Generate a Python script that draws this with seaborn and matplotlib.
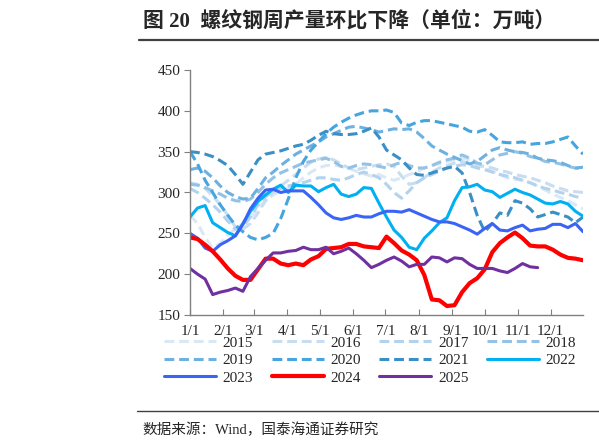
import pandas as pd
import seaborn as sns
import matplotlib.pyplot as plt

# weekly points, day-of-year grid of a non-leap year
weeks = pd.date_range("2025-01-01", periods=53, freq="7D")
month_ticks = pd.date_range("2025-01-01", periods=12, freq="MS")
tick_labels = ["1/1", "2/1", "3/1", "4/1", "5/1", "6/1", "7/1", "8/1", "9/1", "10/1", "11/1", "12/1"]

y2015 = [272, 262, 245, 232, 238, 248, 255, 262, 270, 280, 290, 297, 302, 305, 310, 318, 325, 330, 333, 334,
         332, 330, 326, 323, 320, 322, 318, 315, 318, 322, 325, 330, 333, 335, 338, 340, 342, 340, 335, 330,
         326, 322, 318, 316, 315, 312, 308, 303, 298, 294, 290, 285, 280]
y2016 = [312, 310, 305, 296, 285, 272, 258, 255, 262, 275, 290, 300, 308, 315, 322, 330, 337, 341, 343, 340,
         335, 330, 328, 330, 332, 334, 335, 332, 320, 310, 312, 318, 325, 330, 333, 336, 338, 335, 333, 332,
         330, 327, 325, 322, 320, 318, 315, 312, 308, 305, 302, 301, 300]
y2017 = [305, 300, 293, 285, 276, 265, 255, 258, 270, 285, 295, 302, 305, 308, 310, 312, 315, 318, 318, 316,
         315, 318, 322, 325, 322, 318, 310, 300, 293, 302, 312, 318, 322, 326, 330, 332, 334, 333, 330, 328,
         325, 322, 320, 318, 315, 312, 308, 305, 303, 300, 298, 295, 293]
y2018 = [310, 309, 306, 302, 298, 293, 290, 289, 292, 300, 310, 318, 324, 328, 332, 336, 338, 340, 342, 338,
         332, 330, 333, 335, 334, 332, 330, 334, 337, 333, 330, 330, 333, 337, 340, 342, 346, 342, 336, 334,
         340, 346, 348, 350, 348, 344, 342, 338, 337, 335, 332, 330, 329]
y2019 = [328, 330, 326, 318, 308, 300, 295, 292, 293, 305, 318, 325, 333, 340, 347, 352, 357, 362, 368, 372,
         376, 380, 381, 379, 377, 374, 376, 378, 377, 378, 374, 366, 357, 352, 347, 343, 339, 335, 338, 345,
         352, 355, 352, 350, 349, 347, 342, 340, 339, 337, 333, 330, 331]
y2020 = [350, 335, 315, 300, 285, 272, 260, 252, 245, 242, 245, 250, 268, 292, 318, 338, 352, 362, 372, 380,
         386, 391, 395, 398, 400, 400, 401, 398, 385, 382, 386, 388, 388, 386, 384, 382, 380, 375, 374, 377,
         370, 362, 361, 361, 362, 359, 360, 360, 362, 365, 368, 357, 347]
y2021 = [350, 349, 347, 344, 339, 333, 322, 310, 325, 340, 347, 349, 351, 354, 357, 359, 364, 370, 375, 372,
         371, 371, 372, 375, 379, 368, 352, 346, 340, 330, 322, 321, 324, 327, 330, 332, 324, 300, 272, 252,
         262, 275, 272, 290, 287, 280, 270, 273, 276, 273, 270, 263, 270]
y2022 = [270, 281, 284, 263, 257, 251, 247, 262, 277, 289, 297, 304, 309, 300, 309, 308, 308, 301, 306, 310,
         298, 295, 298, 306, 305, 287, 270, 254, 245, 233, 230, 244, 253, 263, 269, 290, 306, 307, 310, 303,
         301, 294, 299, 304, 300, 297, 292, 287, 286, 289, 286, 277, 271]
y2023 = [250, 244, 232, 228, 236, 241, 247, 261, 280, 293, 303, 304, 300, 302, 302, 302, 294, 285, 275, 269,
         267, 269, 272, 270, 270, 274, 277, 277, 276, 279, 275, 271, 267, 264, 264, 262, 258, 254, 249, 256,
         262, 254, 253, 257, 260, 253, 255, 256, 261, 261, 257, 262, 252]
y2024 = [245, 243, 236, 228, 218, 207, 198, 193, 193, 206, 219, 219, 213, 211, 213, 211, 218, 222, 231, 232,
         233, 237, 237, 234, 233, 232, 246, 238, 229, 224, 217, 199, 169, 168, 161, 162, 178, 189, 195, 206,
         227, 238, 245, 251, 244, 235, 234, 234, 230, 224, 220, 219, 217]
y2025 = [207, 200, 194, 175, 178, 180, 183, 179, 197, 207, 217, 226, 226, 228, 229, 233, 230, 230, 233, 225,
         228, 232, 225, 217, 208, 212, 217, 221, 216, 209, 212, 212, 221, 220, 215, 220, 219, 212, 207, 207,
         207, 204, 202, 207, 213, 209, 208]

series = {
    "2015": y2015, "2016": y2016, "2017": y2017, "2018": y2018, "2019": y2019, "2020": y2020,
    "2021": y2021, "2022": y2022, "2023": y2023, "2024": y2024, "2025": y2025,
}
colors = {
    "2015": "#dae8f5", "2016": "#c9ddf0", "2017": "#b2d2ee", "2018": "#93c2e6", "2019": "#6db1e0",
    "2020": "#46a5de", "2021": "#3a8fc5", "2022": "#00b0f0", "2023": "#3a64f5", "2024": "#ff0000",
    "2025": "#7030a0",
}
dash = (0, (3.2, 1.6))

sns.set_style("ticks")
plt.rcParams["font.family"] = ["Liberation Serif", "Noto Sans CJK SC"]

fig = plt.figure(figsize=(5.99, 4.48), dpi=100)
ax = fig.add_axes([190 / 599, 1 - 315 / 448, 393 / 599, 245 / 448])

for year, vals in series.items():
    df = pd.DataFrame({"date": weeks[:len(vals)], "value": vals})
    if int(year) <= 2021:
        ls, lw = dash, 2.2
    elif year == "2024":
        ls, lw = "-", 3.0
    else:
        ls, lw = "-", 2.2
    sns.lineplot(data=df, x="date", y="value", ax=ax, color=colors[year],
                 linestyle=ls, linewidth=lw, label=year)

if ax.get_legend() is not None:
    ax.get_legend().remove()

ax.set_xlim(pd.Timestamp("2025-01-01"), pd.Timestamp("2025-12-31"))
ax.set_ylim(150, 450)
ax.set_yticks(range(150, 451, 50))
ax.set_xticks(month_ticks)
ax.set_xticklabels(tick_labels)
ax.set_xlabel("")
ax.set_ylabel("")
ax.tick_params(axis="x", direction="in", length=4, labelsize=11, pad=7, color="#808080")
ax.tick_params(axis="y", direction="out", length=4, labelsize=11, pad=3, color="#808080")
for side in ["top", "right"]:
    ax.spines[side].set_visible(False)
for side in ["left", "bottom"]:
    ax.spines[side].set_color("#808080")
    ax.spines[side].set_linewidth(1.0)

handles, labels = ax.get_legend_handles_labels()
order = ["2015", "2019", "2023", "2016", "2020", "2024", "2017", "2021", "2025", "2018", "2022"]
lookup = dict(zip(labels, handles))
fig.legend([lookup[k] for k in order], order, loc="upper left",
           bbox_to_anchor=(164 / 599, 1 - 336 / 448), ncol=4, frameon=False,
           fontsize=11, handlelength=3.4, handletextpad=0.45, columnspacing=1.2,
           labelspacing=0.25, borderaxespad=0, borderpad=0)

fig.text(143 / 599, 1 - 21 / 448, "图 20  螺纹钢周产量环比下降（单位：万吨）",
         fontsize=15, fontweight="bold", va="center", ha="left")
fig.add_artist(plt.Line2D([139 / 599, 1.0], [1 - 40 / 448, 1 - 40 / 448], color="#404040", linewidth=1.6))
fig.add_artist(plt.Line2D([137 / 599, 1.0], [1 - 411 / 448, 1 - 411 / 448], color="#404040", linewidth=1.0))
fig.text(142 / 599, 1 - 430 / 448, "数据来源：Wind，国泰海通证券研究", fontsize=10.5, va="center", ha="left")

fig.savefig("out.png", dpi=100)
